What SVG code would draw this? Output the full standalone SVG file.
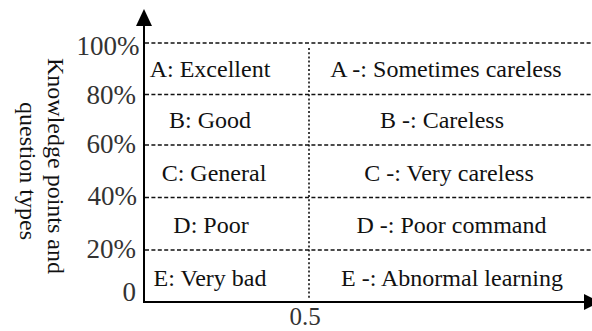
<svg xmlns="http://www.w3.org/2000/svg" width="592" height="331" viewBox="0 0 592 331">
<style>
.t{font-family:"Liberation Serif","Times New Roman",serif;font-size:24px;fill:#111}
.tk{font-family:"Liberation Serif","Times New Roman",serif;font-size:27px;fill:#333;text-anchor:end}
.m{text-anchor:middle}
.grid{stroke:#111;stroke-width:1.6;stroke-dasharray:4 2.4;fill:none}
.vdot{stroke:#111;stroke-width:1.6;stroke-dasharray:2 2.2;fill:none}
.axis{stroke:#000;stroke-width:2;fill:none}
</style>
<rect width="592" height="331" fill="#fff"/>
<g id="connectors">
<line class="grid" x1="145" y1="43" x2="592" y2="43"/>
<line class="grid" x1="145" y1="94.5" x2="592" y2="94.5"/>
<line class="grid" x1="145" y1="145" x2="592" y2="145"/>
<line class="grid" x1="145" y1="197.5" x2="592" y2="197.5"/>
<line class="grid" x1="145" y1="250" x2="592" y2="250"/>
<line class="vdot" x1="309" y1="48" x2="309" y2="300"/>
<line class="axis" x1="144" y1="22" x2="144" y2="302"/>
<line class="axis" x1="143" y1="302" x2="588" y2="302"/>
<polygon points="144,9 136,26 152,26" fill="#000"/>
<polygon points="600,302 584,294 584,310" fill="#000"/>
</g>
<g id="ticks">
<text class="tk" x="139.5" y="55">100%</text>
<text class="tk" x="136" y="104">80%</text>
<text class="tk" x="136" y="153">60%</text>
<text class="tk" x="137" y="205">40%</text>
<text class="tk" x="136" y="258">20%</text>
<text class="tk" x="136" y="301">0</text>
<text class="tk" x="305" y="325" style="text-anchor:middle;font-size:25px">0.5</text>
</g>
<g id="ylabel">
<text class="t m" transform="translate(48,166) rotate(90)">Knowledge points and</text>
<text class="t m" transform="translate(20,171) rotate(90)">question types</text>
</g>
<g id="nodeA"><text class="t m" x="210" y="77">A: Excellent</text></g>
<g id="nodeB"><text class="t m" x="210" y="128">B: Good</text></g>
<g id="nodeC"><text class="t m" x="214" y="181">C: General</text></g>
<g id="nodeD"><text class="t m" x="211" y="233">D: Poor</text></g>
<g id="nodeE"><text class="t m" x="210" y="286">E: Very bad</text></g>
<g id="nodeA2"><text class="t m" x="446" y="77">A -: Sometimes careless</text></g>
<g id="nodeB2"><text class="t m" x="442" y="128">B -: Careless</text></g>
<g id="nodeC2"><text class="t m" x="449" y="181">C -: Very careless</text></g>
<g id="nodeD2"><text class="t m" x="451.5" y="233">D -: Poor command</text></g>
<g id="nodeE2"><text class="t m" x="452" y="286">E -: Abnormal learning</text></g>
</svg>
